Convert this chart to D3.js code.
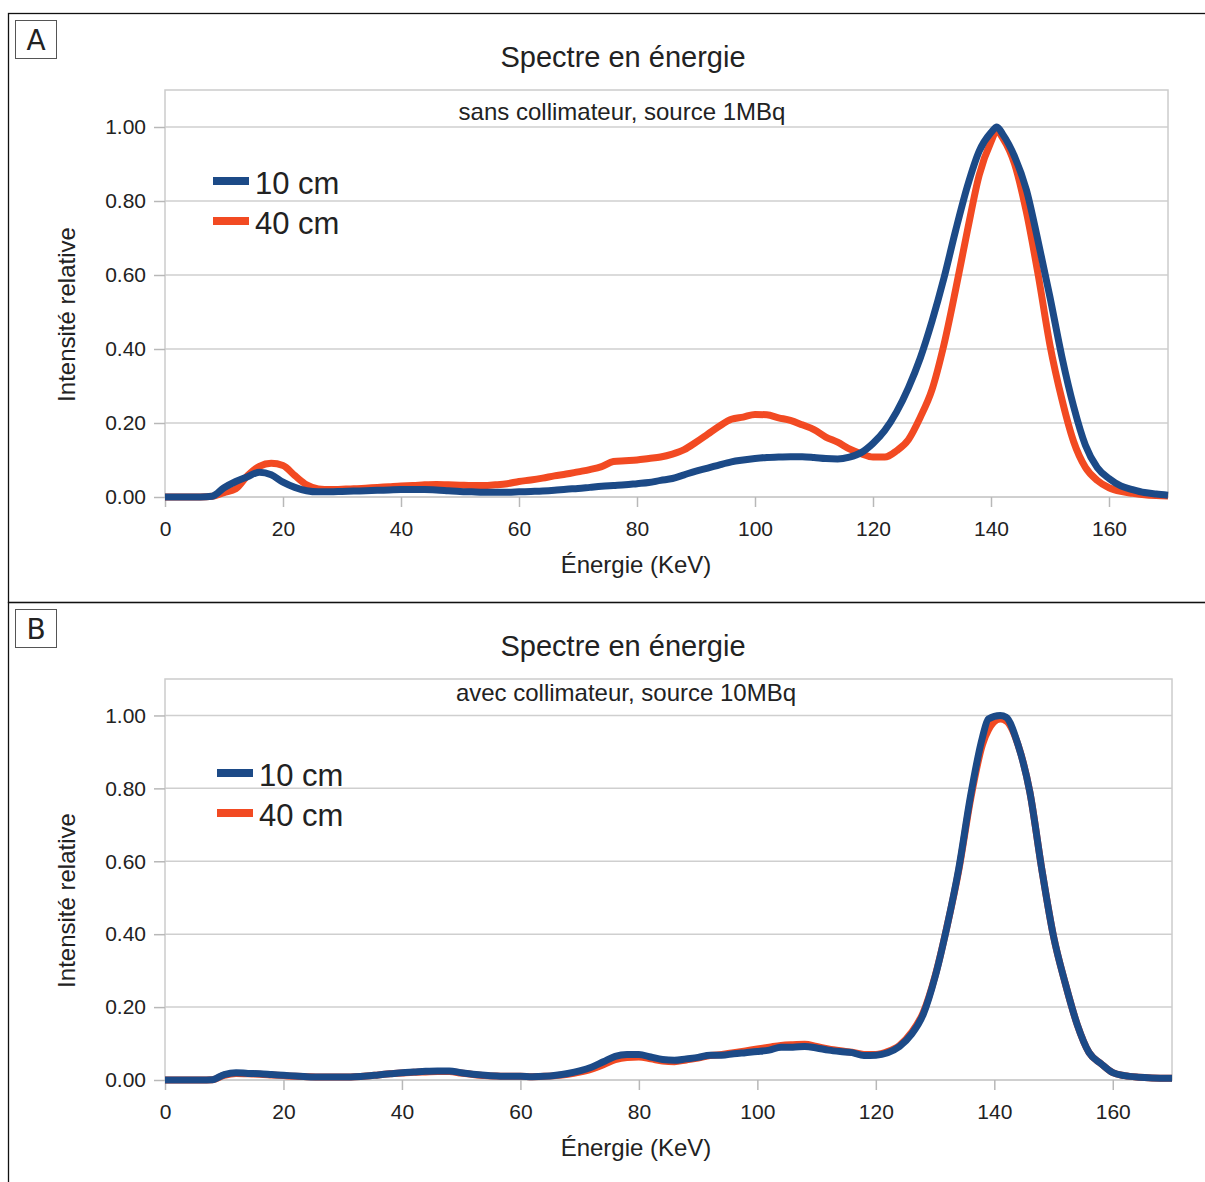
<!DOCTYPE html>
<meta charset="utf-8">
<style>
  body { margin: 0; background: #fff; }
  .axis text { font-family: 'Liberation Sans', Arial, sans-serif; font-size: 21px; fill: #222; }
  .axis line { stroke: #b8b8b8; }
  .axis path { display: none; }
</style>
<script src="https://d3js.org/d3.v7.min.js"></script>
<div id="my_dataviz"></div>
<script>

// ---- data ----
var energyA = [0,2,4,6,8,10,12,14,16,18,20,22,24,26,28,30,32,34,36,38,40,42,44,46,48,50,52,54,56,58,60,62,64,66,68,70,72,74,76,78,80,82,84,86,88,90,92,94,96,98,100,102,104,106,108,110,112,114,116,118,120,122,124,126,128,130,132,134,136,138,140,141,142,144,146,148,150,152,154,156,158,160,162,164,166,168,170];

var a10cm = [0,0,0,0,0.002,0.025,0.042,0.055,0.067,0.06,0.04,0.026,0.017,0.014,0.014,0.015,0.016,0.017,0.018,0.019,0.02,0.02,0.02,0.019,0.017,0.015,0.014,0.013,0.013,0.013,0.014,0.015,0.016,0.018,0.021,0.023,0.026,0.029,0.031,0.033,0.036,0.039,0.045,0.05,0.06,0.07,0.078,0.087,0.095,0.1,0.104,0.107,0.108,0.109,0.109,0.107,0.104,0.103,0.108,0.12,0.145,0.18,0.23,0.295,0.375,0.475,0.59,0.72,0.84,0.935,0.985,1.0,0.98,0.92,0.83,0.69,0.54,0.38,0.245,0.14,0.08,0.05,0.03,0.02,0.012,0.008,0.005];

var a40cm = [0,0,0,0,0.002,0.012,0.022,0.058,0.083,0.091,0.085,0.058,0.033,0.022,0.02,0.021,0.022,0.024,0.026,0.028,0.03,0.031,0.033,0.034,0.033,0.032,0.031,0.031,0.033,0.036,0.042,0.046,0.051,0.057,0.062,0.068,0.074,0.082,0.096,0.098,0.1,0.104,0.108,0.116,0.128,0.148,0.17,0.192,0.21,0.216,0.223,0.222,0.214,0.207,0.195,0.182,0.162,0.148,0.13,0.117,0.108,0.108,0.125,0.155,0.215,0.29,0.41,0.56,0.72,0.87,0.96,0.99,0.97,0.9,0.77,0.6,0.41,0.265,0.15,0.08,0.045,0.025,0.015,0.01,0.006,0.004,0.003];

var energyB = [0,2,4,6,8,10,12,14,16,18,20,22,24,26,28,30,32,34,36,38,40,42,44,46,48,50,52,54,56,58,60,62,64,66,68,70,72,74,76,78,80,82,84,86,88,90,92,94,96,98,100,102,104,106,108,110,112,114,116,118,120,122,124,126,128,130,132,134,136,138,139,141,142,144,146,148,150,152,154,156,158,160,162,164,166,168,170];

var b10cm = [0,0,0,0,0.001,0.015,0.02,0.018,0.017,0.015,0.013,0.011,0.009,0.008,0.008,0.008,0.009,0.011,0.014,0.017,0.02,0.022,0.024,0.025,0.025,0.02,0.016,0.013,0.011,0.01,0.01,0.009,0.01,0.013,0.018,0.025,0.035,0.05,0.065,0.07,0.07,0.063,0.056,0.054,0.058,0.062,0.068,0.068,0.072,0.075,0.078,0.082,0.09,0.09,0.092,0.088,0.082,0.078,0.075,0.067,0.068,0.075,0.092,0.125,0.18,0.283,0.42,0.58,0.78,0.94,0.99,1.0,0.995,0.92,0.79,0.58,0.394,0.264,0.152,0.075,0.045,0.02,0.012,0.008,0.006,0.005,0.005];

var b40cm = [0,0,0,0,0.001,0.013,0.018,0.017,0.016,0.014,0.012,0.01,0.009,0.008,0.008,0.008,0.009,0.011,0.014,0.017,0.019,0.021,0.022,0.023,0.023,0.019,0.015,0.012,0.011,0.01,0.01,0.009,0.01,0.012,0.016,0.022,0.03,0.042,0.056,0.062,0.063,0.058,0.052,0.05,0.055,0.06,0.067,0.07,0.075,0.08,0.085,0.09,0.095,0.097,0.098,0.092,0.085,0.08,0.076,0.07,0.07,0.078,0.095,0.13,0.185,0.285,0.42,0.575,0.77,0.92,0.96,0.99,0.985,0.92,0.79,0.58,0.394,0.264,0.152,0.075,0.045,0.02,0.012,0.008,0.006,0.005,0.005];

var seriesNames = ["10 cm", "40 cm"];
var seriesColors = ["#1c4a87", "#f24a22"];
var yTicks = [0, 0.2, 0.4, 0.6, 0.8, 1.0];
var xTicks = [0, 20, 40, 60, 80, 100, 120, 140, 160];

var panels = [
  { letter: "A", top: 13, subtitle: "sans collimateur, source 1MBq", subX: 622, subDy: 30,
    energy: energyA, series: [a10cm, a40cm],
    plot: {left: 165, top: 90, right: 1168, bottom: 497}, legendX: 213, legendY: 181 },
  { letter: "B", top: 602, subtitle: "avec collimateur, source 10MBq", subX: 626, subDy: 22,
    energy: energyB, series: [b10cm, b40cm],
    plot: {left: 165, top: 679, right: 1172, bottom: 1080}, legendX: 217, legendY: 773 }
];

var font = "'Liberation Sans', Arial, sans-serif";

var svg = d3.select("#my_dataviz")
  .append("svg")
    .attr("width", 1205)
    .attr("height", 1182);

panels.forEach(function(p) {
  var dy = p.top - 13;

  // outer frame of the panel
  svg.append("rect")
    .attr("x", 8.5).attr("y", p.top + 0.5)
    .attr("width", 1210).attr("height", 589)
    .style("fill", "none").style("stroke", "#111").style("stroke-width", 1.3);

  // panel letter in its little box
  svg.append("rect")
    .attr("x", 15.5).attr("y", p.top + 7.5)
    .attr("width", 41).attr("height", 38)
    .style("fill", "#fff").style("stroke", "#555");
  svg.append("text")
    .attr("x", 36).attr("y", p.top + 37)
    .attr("text-anchor", "middle")
    .style("font-family", "'DejaVu Sans', sans-serif")
    .style("font-size", "28px").style("fill", "#222")
    .text(p.letter);

  // scales
  var x = d3.scaleLinear().domain([0, 170]).range([p.plot.left, p.plot.right]);
  var y = d3.scaleLinear().domain([0, 1.1]).range([p.plot.bottom, p.plot.top]);

  // gridlines
  svg.append("g")
    .selectAll("line")
    .data(yTicks)
    .enter()
    .append("line")
      .attr("x1", p.plot.left).attr("x2", p.plot.right)
      .attr("y1", function(d) { return y(d) }).attr("y2", function(d) { return y(d) })
      .style("stroke", "#cfcfcf").style("stroke-width", 1.5);

  // plot frame
  svg.append("rect")
    .attr("x", p.plot.left).attr("y", p.plot.top)
    .attr("width", p.plot.right - p.plot.left).attr("height", p.plot.bottom - p.plot.top)
    .style("fill", "none").style("stroke", "#cccccc").style("stroke-width", 1.5);

  // axes
  svg.append("g")
    .attr("class", "axis")
    .attr("transform", "translate(0," + p.plot.bottom + ")")
    .call(d3.axisBottom(x).tickValues(xTicks).tickSize(10).tickPadding(14).tickFormat(d3.format("d")))
    .selectAll("line").style("stroke-width", 1.5);
  svg.append("g")
    .attr("class", "axis")
    .attr("transform", "translate(" + p.plot.left + ",0)")
    .call(d3.axisLeft(y).tickValues(yTicks).tickSize(11).tickPadding(8).tickFormat(d3.format(".2f")))
    .selectAll("line").style("stroke-width", 1.5);

  // titles
  svg.append("text")
    .attr("x", 623).attr("y", 67 + dy)
    .attr("text-anchor", "middle")
    .style("font-family", font).style("font-size", "29px").style("fill", "#222")
    .text("Spectre en énergie");
  svg.append("text")
    .attr("x", p.subX).attr("y", p.plot.top + p.subDy)
    .attr("text-anchor", "middle")
    .style("font-family", font).style("font-size", "24px").style("fill", "#222")
    .text(p.subtitle);
  svg.append("text")
    .attr("x", 636).attr("y", p.plot.bottom + 76)
    .attr("text-anchor", "middle")
    .style("font-family", font).style("font-size", "24px").style("fill", "#222")
    .text("Énergie (KeV)");
  svg.append("text")
    .attr("transform", "translate(75," + ((p.plot.top + p.plot.bottom) / 2 + 21) + ") rotate(-90)")
    .attr("text-anchor", "middle")
    .style("font-family", font).style("font-size", "24px").style("fill", "#222")
    .text("Intensité relative");

  // curves: 40 cm under 10 cm
  var line = d3.line()
    .x(function(d) { return x(d[0]) })
    .y(function(d) { return y(d[1]) })
    .curve(d3.curveMonotoneX);
  [1, 0].forEach(function(i) {
    var pts = p.energy.map(function(e, k) { return [e, p.series[i][k]] });
    svg.append("path")
      .datum(pts)
      .attr("d", line)
      .style("fill", "none")
      .style("stroke", seriesColors[i])
      .style("stroke-width", 7)
      .style("stroke-linejoin", "round");
  });

  // legend
  seriesNames.forEach(function(name, i) {
    svg.append("rect")
      .attr("x", p.legendX).attr("y", p.legendY + i * 40 - 4)
      .attr("width", 36).attr("height", 8)
      .style("fill", seriesColors[i]);
    svg.append("text")
      .attr("x", p.legendX + 42).attr("y", p.legendY + i * 40 + 13)
      .style("font-family", font).style("font-size", "31px").style("fill", "#222")
      .text(name);
  });
});

</script>
